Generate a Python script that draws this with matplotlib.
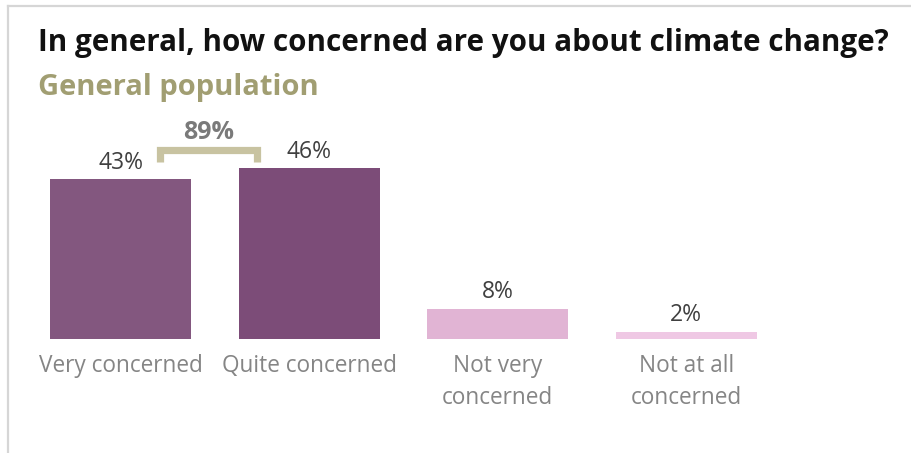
import matplotlib
matplotlib.use("Agg")
import matplotlib.pyplot as plt
from matplotlib.lines import Line2D

# Survey data
categories = ["Very concerned", "Quite concerned", "Not very\nconcerned", "Not at all\nconcerned"]
values = [43, 46, 8, 2]
bar_colors = ["#83577f", "#7c4c78", "#e1b4d4", "#efc8e4"]

title = "In general, how concerned are you about climate change?"
subtitle = "General population"

W, H = 912, 453
fig = plt.figure(figsize=(W / 100, H / 100), dpi=100)
fig.patch.set_facecolor("white")

# light frame on the top and left edges
fig.add_artist(Line2D([8 / W, 1], [1 - 6 / H, 1 - 6 / H], transform=fig.transFigure,
                      color="#d6d6d6", lw=1.6))
fig.add_artist(Line2D([8 / W, 8 / W], [0, 1 - 6 / H], transform=fig.transFigure,
                      color="#d6d6d6", lw=1.6))

# plotting area: x in category units, y in percent
px_per_pct = 3.71
base_px = 339
ymax = 60
left_px, right_px = 26.5, 780.5
ax = fig.add_axes([left_px / W, (H - base_px) / H,
                   (right_px - left_px) / W, ymax * px_per_pct / H])
ax.set_xlim(-0.5, len(values) - 0.5)
ax.set_ylim(0, ymax)
ax.axis("off")

x = list(range(len(values)))
ax.bar(x, values, width=0.75, color=bar_colors, edgecolor="none")

val_font = dict(family=["Open Sans", "DejaVu Sans"], fontsize=16.5, color="#404040")
for xi, v in zip(x, values):
    ax.text(xi, v + 1.3, f"{v}%", ha="center", va="bottom", **val_font)

lab_font = dict(family=["Open Sans", "DejaVu Sans"], fontsize=16.3, color="#858585")
for xi, lab in zip(x, categories):
    ax.text(xi, -4.1, lab, ha="center", va="top", linespacing=1.45, **lab_font)

# bracket grouping the two "concerned" answers
total = values[0] + values[1]
bx0, bx1 = 0.21, 0.725
by_top, by_bot = 50.9, 47.6
ax.plot([bx0, bx0, bx1, bx1], [by_bot, by_top, by_top, by_bot], color="#c8c3a1",
        lw=5.2, solid_joinstyle="miter", solid_capstyle="butt", clip_on=False)
ax.text((bx0 + bx1) / 2, by_top + 1.5, f"{total}%", ha="center", va="bottom",
        family=["Open Sans", "DejaVu Sans"], fontsize=18, fontweight="bold",
        color="#7a7a7a")

fig.text(38 / W, 1 - 43 / H, title, ha="left", va="center",
         family=["Open Sans", "DejaVu Sans"], fontsize=21.3, fontweight="bold",
         color="#111111")
fig.text(38 / W, 1 - 88 / H, subtitle, ha="left", va="center",
         family=["Open Sans", "DejaVu Sans"], fontsize=21, fontweight="bold",
         color="#a19e72")

fig.savefig("out.png", dpi=100, facecolor="white")
